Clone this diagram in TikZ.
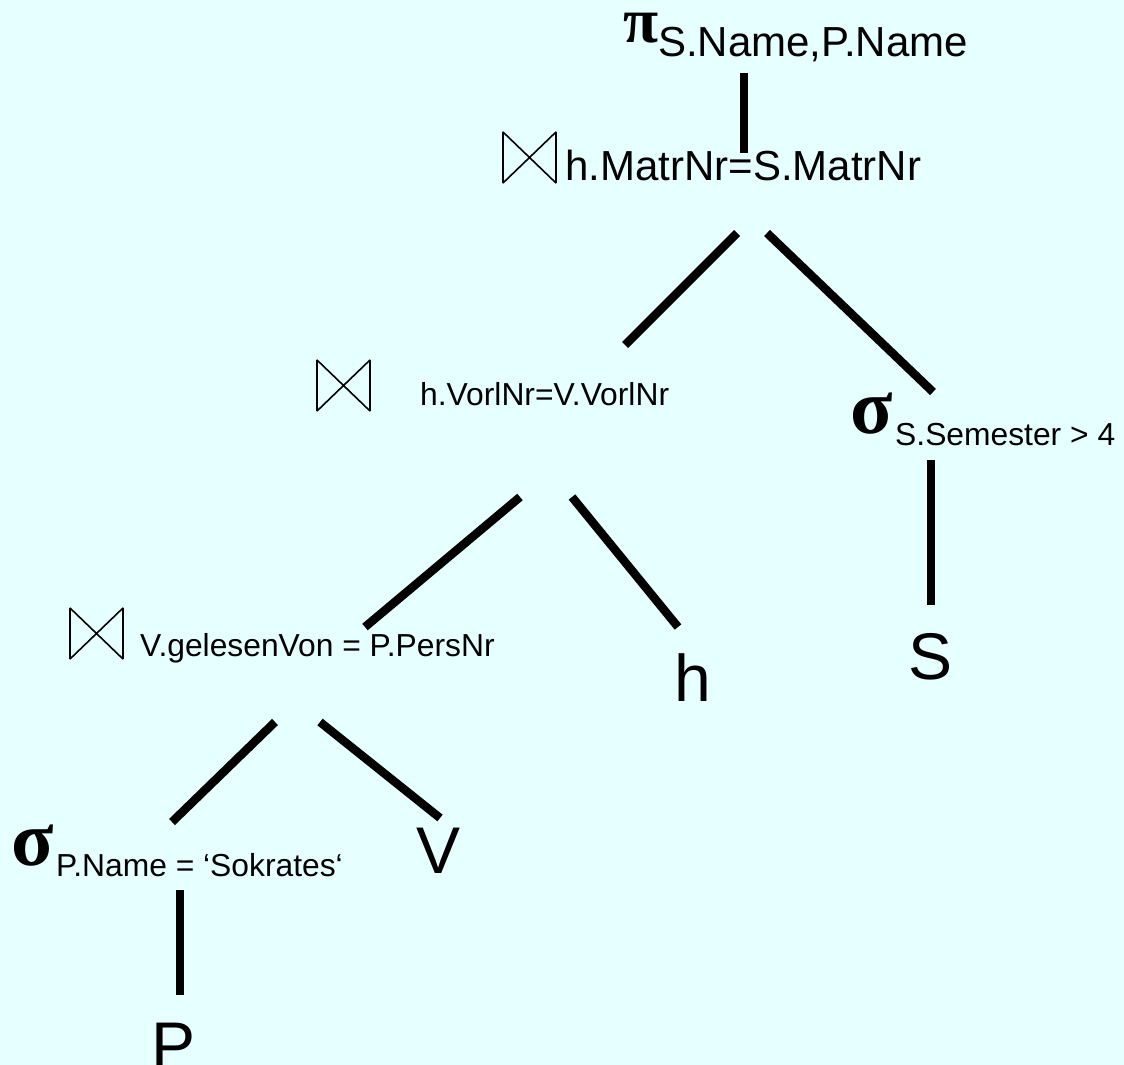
\documentclass[tikz,border=0pt]{standalone}
\usepackage{fontspec}
\setmainfont{Liberation Sans}
\newfontfamily\greekfont{Liberation Serif}
\definecolor{bgcyan}{HTML}{E6FFFF}
\tikzset{
  joinsym/.pic={\draw[line width=1.6pt,line join=bevel] (0,0) -- (0,51) -- (53,0) -- (53,51) -- cycle;}
}
\begin{document}
\begin{tikzpicture}[x=1pt,y=-1pt,
  edge/.style={line width=8.5pt},
  big/.style={font=\fontsize{42}{48}\selectfont, anchor=base west, inner sep=0pt},
  small/.style={font=\fontsize{31.8}{36}\selectfont, anchor=base west, inner sep=0pt},
  leaf/.style={font=\fontsize{66}{72}\selectfont, anchor=base west, inner sep=0pt},
  greek/.style={font=\fontsize{78}{80}\greekfont\bfseries, anchor=base west, inner sep=0pt}]
\fill[bgcyan] (0,0) rectangle (1124,1065);
\useasboundingbox (0,0) rectangle (1124,1065);
% projection
\node[greek,font=\fontsize{64}{70}\greekfont\bfseries] (pi) at (623,43) {π};
\node[big] (pisub) at (658,57) {S.Name,P.Name};
% joins
\pic (b1) at (503,132) {joinsym};
\node[big] (j1) at (565,180) {h.MatrNr=S.MatrNr};
\pic (b2) at (317,360) {joinsym};
\node[small] (j2) at (420,405) {h.VorlNr=V.VorlNr};
\pic (b3) at (70,608) {joinsym};
\node[small] (j3) at (140,656) {V.gelesenVon = P.PersNr};
% selections
\node[greek] (sigS) at (850,433) {σ};
\node[small] (sigSsub) at (895,445) {S.Semester > 4};
\node[greek] (sigP) at (11,865) {σ};
\node[small] (sigPsub) at (56,876) {P.Name = ‘Sokrates‘};
% relations
\node[leaf] (relS) at (908,679) {S};
\node[leaf] (relh) at (674,701) {h};
\node[leaf] (relV) at (416,873) {V};
\node[leaf] (relP) at (151,1068) {P};
% edge ends
\coordinate (e1a) at (744,73);  \coordinate (e1b) at (744,153);
\coordinate (e2a) at (737,233); \coordinate (e2b) at (625,345);
\coordinate (e3a) at (767,233); \coordinate (e3b) at (933,392);
\coordinate (e4a) at (931,460); \coordinate (e4b) at (931,605);
\coordinate (e5a) at (520,497); \coordinate (e5b) at (365,627);
\coordinate (e6a) at (572,497); \coordinate (e6b) at (678,627);
\coordinate (e7a) at (275,722); \coordinate (e7b) at (172,822);
\coordinate (e8a) at (320,722); \coordinate (e8b) at (440,818);
\coordinate (e9a) at (180,890); \coordinate (e9b) at (180,995);
\foreach \i in {1,...,9}
  \draw[edge] (e\i a) -- (e\i b);
\end{tikzpicture}
\end{document}
